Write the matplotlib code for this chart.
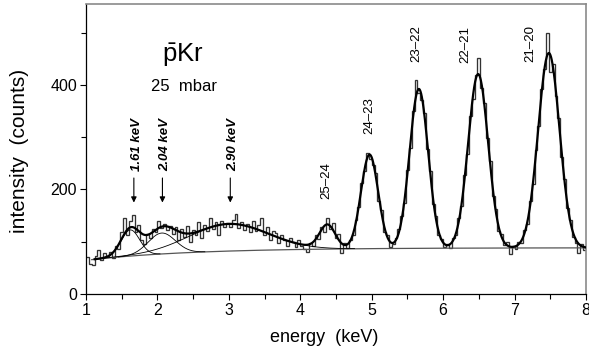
import numpy as np
import matplotlib
matplotlib.use("Agg")
import matplotlib.pyplot as plt

plt.rcParams['font.family'] = ['Liberation Sans', 'DejaVu Sans']
plt.rcParams['mathtext.fontset'] = 'custom'
plt.rcParams['mathtext.rm'] = 'Liberation Sans'
plt.rcParams['mathtext.it'] = 'Liberation Sans:italic'

# ---------------- data ----------------
bin_start, bin_stop = 1.0, 8.0   # keV, histogram range
counts = [
    70, 58, 56, 72, 84, 66, 78, 70, 80, 68,
    92, 86, 118, 146, 112, 140, 152, 118, 132, 104,
    96, 114, 108, 124, 118, 140, 126, 134, 122, 130,
    114, 128, 104, 124, 110, 130, 100, 122, 112, 138,
    108, 132, 120, 146, 124, 138, 112, 140, 128, 136,
    128, 142, 154, 126, 138, 122, 134, 118, 140, 120,
    132, 146, 112, 128, 104, 120, 116, 98, 112, 104,
    92, 108, 100, 90, 104, 92, 86, 80, 98, 92,
    112, 106, 128, 118, 146, 124, 136, 108, 114, 78,
    98, 88, 104, 112, 142, 166, 212, 236, 270, 258,
    246, 232, 178, 160, 118, 112, 90, 96, 108, 124,
    150, 174, 238, 280, 350, 410, 384, 372, 346, 278,
    236, 172, 150, 112, 106, 90, 96, 88, 108, 112,
    146, 168, 228, 268, 340, 374, 420, 452, 394, 366,
    298, 254, 188, 162, 120, 114, 94, 100, 76, 92,
    86, 100, 98, 122, 134, 178, 210, 276, 322, 392,
    430, 500, 424, 440, 378, 336, 262, 220, 164, 142,
    110, 98, 78, 96, 84,
]

# fitted background: level - drop * exp(-(E-1)/scale)
bg_level, bg_drop, bg_scale = 88.5, 24.0, 1.5

# fitted gaussian lines
peak_centers = [1.62, 2.06, 3.00, 4.38, 4.97, 5.66, 6.49, 7.48]
peak_amps    = [50, 40, 52, 45, 180, 305, 333, 373]
peak_sigmas  = [0.13, 0.19, 0.55, 0.11, 0.12, 0.13, 0.14, 0.15]
n_shown_components = 3   # low-energy components drawn separately

line_labels  = ["25–24", "24–23", "23–22", "22–21", "21–20"]
energy_labels = ["1.61 keV", "2.04 keV", "2.90 keV"]

x_ticks = [1, 2, 3, 4, 5, 6, 7, 8]
y_ticks = [0, 200, 400]

# ---------------- annotation placement ----------------
line_label_x = [4.37, 4.97, 5.63, 6.31, 7.22]
line_label_y = [217, 342, 480, 478, 480]
arrow_x = [1.67, 2.07, 3.02]
energy_text_x = [1.72, 2.11, 3.06]

# ---------------- figure ----------------
fig = plt.figure(figsize=(5.89, 3.53), dpi=100)
ax = fig.add_axes([86/589, 59/353, 500/589, 290/353])

def background(e):
    return bg_level - bg_drop * np.exp(-(e - 1.0) / bg_scale)

def gauss(e, a, c, s):
    return a * np.exp(-0.5 * ((e - c) / s) ** 2)

edges = np.linspace(bin_start, bin_stop, len(counts) + 1)
ax.stairs(counts, edges, baseline=None, color='#333333', lw=0.95, zorder=2)

xf = np.linspace(1.08, 8.0, 1500)
bgv = background(xf)
ax.plot(xf, bgv, color='#555555', lw=0.9, zorder=3)

for a, c, s in list(zip(peak_amps, peak_centers, peak_sigmas))[:n_shown_components]:
    m = np.abs(xf - c) < 3.2 * s
    ax.plot(xf[m], bgv[m] + gauss(xf[m], a, c, s), color='black', lw=0.6, zorder=3)

total = bgv.copy()
for a, c, s in zip(peak_amps, peak_centers, peak_sigmas):
    total += gauss(xf, a, c, s)
mt = xf >= 1.12
ax.plot(xf[mt], total[mt], color='black', lw=1.6, zorder=4)

ax.set_xlim(bin_start, bin_stop)
ax.set_ylim(0, 555)
ax.set_xticks(x_ticks)
ax.set_xticklabels([str(t) for t in x_ticks])
ax.set_xticks(np.arange(1.5, 8, 1.0), minor=True)
ax.set_yticks(y_ticks)
ax.set_yticks([100, 300, 500], minor=True)
ax.tick_params(which='major', direction='out', length=4.5, width=0.8,
               labelsize=11.5, pad=2, top=False, right=False)
ax.tick_params(which='minor', direction='out', length=3.5, width=0.8,
               top=False, right=False)
for sp in ['left', 'bottom']:
    ax.spines[sp].set_color('black')
    ax.spines[sp].set_linewidth(0.9)
for sp in ['top', 'right']:
    ax.spines[sp].set_color('#8a8a8a')
    ax.spines[sp].set_linewidth(1.2)

fig.text(20/589, 1 - 151/353, 'intensity  (counts)', rotation=90,
         ha='center', va='center', fontsize=15)
fig.text(324/589, 1 - 338/353, 'energy  (keV)', ha='center', va='center',
         fontsize=13)

ax.text(2.35, 444, r'$\bar{\mathrm{p}}\mathrm{Kr}$', ha='center', va='baseline',
        fontsize=18.5)
ax.text(2.37, 388, '25  mbar', ha='center', va='baseline', fontsize=12)

for lab, x, y in zip(line_labels, line_label_x, line_label_y):
    ax.text(x, y, lab, rotation=90, ha='center', va='center', fontsize=9.5)

for lab, xa, xt in zip(energy_labels, arrow_x, energy_text_x):
    ax.annotate('', xy=(xa, 175), xytext=(xa, 222),
                arrowprops=dict(arrowstyle='-|>', color='black', lw=0.8,
                                mutation_scale=8, shrinkA=0, shrinkB=0))
    ax.text(xt, 236, lab, rotation=90, ha='center', va='bottom',
            fontsize=9.5, fontstyle='italic', fontweight='bold')

fig.savefig('out.png', dpi=100)
